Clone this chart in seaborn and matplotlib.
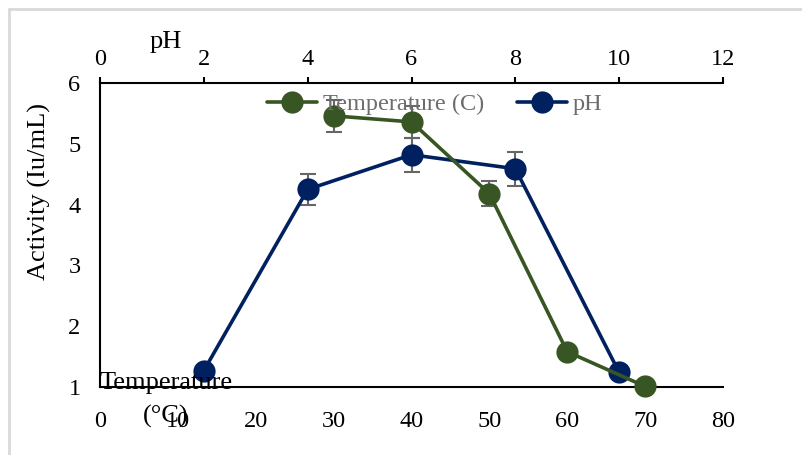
import matplotlib
matplotlib.use('Agg')
import matplotlib.pyplot as plt
import seaborn as sns
import pandas as pd
from matplotlib.lines import Line2D

# ---- data ----
temp_c = [30, 40, 50, 60, 70]
temp_activity = [5.46, 5.36, 4.18, 1.58, 1.01]
temp_err = [0.26, 0.26, 0.20, 0.0, 0.0]

ph_values = [2, 4, 6, 8, 10]
ph_activity = [1.27, 4.25, 4.82, 4.59, 1.24]
ph_err = [0.0, 0.26, 0.28, 0.28, 0.0]

temp_ticks = [0, 10, 20, 30, 40, 50, 60, 70, 80]
ph_ticks = [0, 2, 4, 6, 8, 10, 12]
y_ticks = [1, 2, 3, 4, 5, 6]

GREEN = '#375623'
NAVY = '#002060'
ERR = '#666666'

sns.set_theme(style='white')
plt.rcParams['font.family'] = ['Liberation Serif', 'DejaVu Serif']

W, H = 802, 455
fig = plt.figure(figsize=(W / 100, H / 100), dpi=100)
ax = fig.add_axes([100 / W, 1 - 387 / H, 623 / W, 304 / H])
ax2 = ax.twiny()
ax.set_zorder(ax2.get_zorder() + 1)
ax.patch.set_visible(False)

df_t = pd.DataFrame({'x': temp_c, 'y': temp_activity})
df_p = pd.DataFrame({'x': ph_values, 'y': ph_activity})

# pH series on top axis
ax2.errorbar(ph_values, ph_activity, yerr=ph_err, fmt='none', ecolor=ERR,
             elinewidth=1.5, capsize=5.5, capthick=1.5, zorder=1)
sns.lineplot(data=df_p, x='x', y='y', ax=ax2, color=NAVY, lw=2.6,
             marker='o', markersize=16, markeredgewidth=0, zorder=3,
             clip_on=False, legend=False)

# Temperature series on bottom axis
ax.errorbar(temp_c, temp_activity, yerr=temp_err, fmt='none', ecolor=ERR,
            elinewidth=1.5, capsize=5.5, capthick=1.5, zorder=1)
sns.lineplot(data=df_t, x='x', y='y', ax=ax, color=GREEN, lw=2.6,
             marker='o', markersize=16, markeredgewidth=0, zorder=3,
             clip_on=False, legend=False)

ax.set_xlim(0, 80)
ax2.set_xlim(0, 12)
ax.set_ylim(1, 6)
ax.set_xticks(temp_ticks)
ax2.set_xticks(ph_ticks)
ax.set_yticks(y_ticks)
ax.set_xlabel('')
ax.set_ylabel('')
ax2.set_xlabel('')
ax2.set_ylabel('')

for a in (ax, ax2):
    for s in a.spines.values():
        s.set_visible(False)
    a.grid(False)

ax.spines['left'].set_visible(True)
ax.spines['bottom'].set_visible(True)
ax2.spines['top'].set_visible(True)
for s in (ax.spines['left'], ax.spines['bottom'], ax2.spines['top']):
    s.set_color('black')
    s.set_linewidth(1.5)

FS = 17.5
TS = 19
ax.tick_params(axis='x', length=0, pad=17, labelsize=FS, colors='black')
ax.tick_params(axis='y', length=0, pad=14, labelsize=FS, colors='black')
ax2.tick_params(axis='x', top=True, bottom=False, direction='out', length=4.5,
                width=1.5, pad=5, labelsize=FS, colors='black')

# axis titles
fig.text(39 / W, 1 - 191 / H, 'Activity (Iu/mL)', rotation=90, ha='center',
         va='center', fontsize=TS, color='black')
fig.text(166 / W, 1 - 42 / H, 'pH', ha='center', va='center', fontsize=TS,
         color='black')
fig.text(166 / W, 1 - 383 / H, 'Temperature', ha='center', va='center',
         fontsize=TS, color='black', zorder=10)
fig.text(166 / W, 1 - 416 / H, '(°C)', ha='center', va='center',
         fontsize=TS, color='black', zorder=10)

# legend
handles = [Line2D([], [], color=GREEN, lw=2.6, marker='o', markersize=16,
                  markeredgewidth=0),
           Line2D([], [], color=NAVY, lw=2.6, marker='o', markersize=16,
                  markeredgewidth=0)]
leg = fig.legend(handles, ['Temperature (C)', 'pH'], ncol=2, frameon=False,
                 loc='center left', bbox_to_anchor=(267 / W, 1 - 104 / H),
                 fontsize=17.5, handlelength=2.05, handletextpad=0.25,
                 columnspacing=1.35, borderaxespad=0, borderpad=0)
for t in leg.get_texts():
    t.set_color('#6d6d6d')
leg.set_zorder(20)

# outer frame (top and left edges)
fig.add_artist(Line2D([9 / W, 9 / W], [0, 1 - 9 / H], transform=fig.transFigure,
                      color='#d9d9d9', lw=2))
fig.add_artist(Line2D([9 / W, 1], [1 - 9 / H, 1 - 9 / H], transform=fig.transFigure,
                      color='#d9d9d9', lw=2))

fig.savefig('out.png', dpi=100)
